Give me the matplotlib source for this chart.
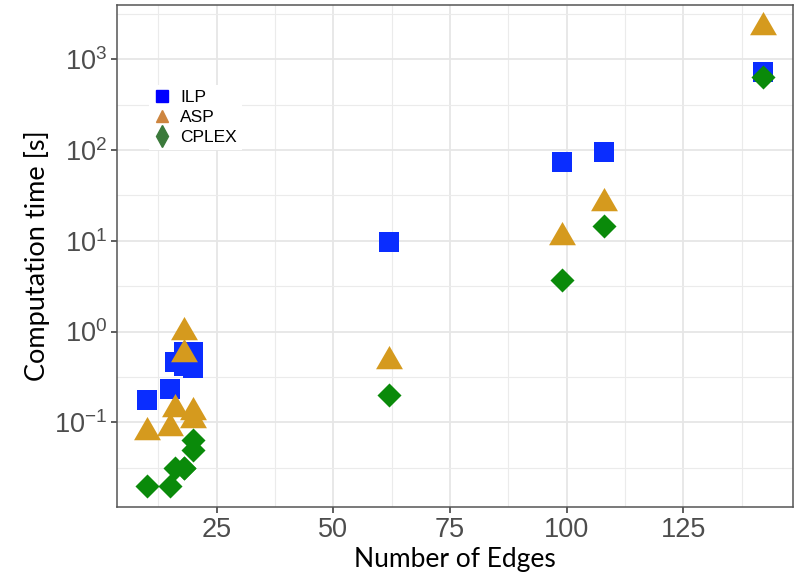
import numpy as np
import matplotlib
matplotlib.use("Agg")
import matplotlib.pyplot as plt
from matplotlib.lines import Line2D

plt.rcParams["font.family"] = ["Liberation Sans", "DejaVu Sans"]
plt.rcParams["mathtext.default"] = "regular"

# data
edges = [10, 15, 16, 18, 18, 20, 20, 62, 99, 108, 142]
ilp = [0.175, 0.23, 0.46, 0.60, 0.42, 0.60, 0.40, 9.7, 74, 95, 720]
asp = [0.079, 0.086, 0.14, 1.0, 0.56, 0.13, 0.106, 0.47, 11.0, 26, 2250]
cplex = [0.020, 0.020, 0.031, 0.031, 0.031, 0.050, 0.064, 0.20, 3.7, 14.6, 640]

xticks = [25, 50, 75, 100, 125]
yticks = [0.1, 1, 10, 100, 1000]
ylabels = ["$10^{-1}$", "$10^{0}$", "$10^{1}$", "$10^{2}$", "$10^{3}$"]

c_ilp = "#0A2DFF"
c_asp = "#D59A1E"
c_cplex = "#0A8A0A"

sq = [(-1, -1), (1, -1), (1, 1), (-1, 1)]
tri = [(-1, -0.577), (1, -0.577), (0, 1.155)]
dia = [(0, 1), (1, 0), (0, -1), (-1, 0)]

fig = plt.figure(figsize=(7.96, 5.77), dpi=100)
ax = fig.add_axes([116.7 / 796, 1 - 507.3 / 577, (793.3 - 116.7) / 796, (507.3 - 4.7) / 577])

ax.scatter(edges, ilp, marker=sq, s=207, color=c_ilp, linewidths=0, zorder=3)
ax.scatter(edges, asp, marker=tri, s=500, color=c_asp, linewidths=0, zorder=4)
ax.scatter(edges, cplex, marker=dia, s=300, color=c_cplex, linewidths=0, zorder=5)

ax.set_yscale("log")
ax.set_xlim(3.57, 148.6)
ax.set_ylim(0.01156, 3990)

ax.set_xticks(xticks)
ax.set_xticks([12.5, 37.5, 62.5, 87.5, 112.5, 137.5], minor=True)
ax.set_yticks(yticks)
ax.set_yticklabels(ylabels)
ax.set_yticks([10 ** (k + 0.5) for k in range(-2, 4)], minor=True)
ax.yaxis.set_minor_formatter(matplotlib.ticker.NullFormatter())

ax.grid(True, which="major", color="#E6E6E6", linewidth=1.3, zorder=0)
ax.grid(True, which="minor", color="#EBEBEB", linewidth=0.8, zorder=0)
ax.set_axisbelow(True)

ax.tick_params(which="major", length=4, width=1.1, color="#333333",
               labelsize=19.5, labelcolor="#4D4D4D", pad=3)
ax.tick_params(which="minor", length=0)
for sp in ax.spines.values():
    sp.set_color("#555555")
    sp.set_linewidth(1.1)

ax.set_xlabel("Number of Edges", fontsize=19, family=["Lato", "DejaVu Sans"], labelpad=3)
ax.set_ylabel("Computation time [s]", fontsize=19.5, family=["Lato", "DejaVu Sans"], labelpad=3)

handles = [
    Line2D([], [], marker="s", color="#0000FF", linestyle="none", markersize=8),
    Line2D([], [], marker="^", color="#CD853F", linestyle="none", markersize=8),
    Line2D([], [], marker="d", color="#3B7A3B", linestyle="none", markersize=11),
]
leg = ax.legend(handles, ["ILP", "ASP", "CPLEX"], loc="upper left",
                bbox_to_anchor=(140 / 796, 1 - 76 / 577), bbox_transform=fig.transFigure,
                fontsize=12.5, frameon=True, facecolor="white", edgecolor="none",
                framealpha=1, fancybox=False, labelspacing=0.28, handletextpad=0.6,
                borderpad=0.3, handlelength=0.9)

fig.savefig("out.png", dpi=100)
